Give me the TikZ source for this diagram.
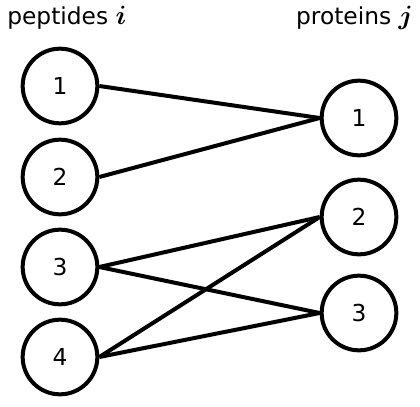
\documentclass[tikz,border=0pt]{standalone}
\usepackage{amsmath}
\usepackage{bm}
\usepackage{graphicx}
\usepackage{fontspec}
\setmainfont{DejaVu Sans}
\newcommand{\idx}[1]{\scalebox{1.15}{$\bm{#1}$}}

\begin{document}
\begin{tikzpicture}[x=0.75pt,y=-0.75pt,
        vert/.style={draw, circle, line width=3pt, minimum size=56pt, inner sep=0pt, font=\fontsize{17.5}{20}\selectfont},
        link/.style={line width=3pt},
        head/.style={font=\fontsize{17.5}{21}\selectfont, inner sep=0pt}]
        \useasboundingbox (0,0) rectangle (420,406);

        % peptides
        \node[head, anchor=base west] (hp) at (7,25) {peptides \idx{i}};
        \node[vert] (p1) at (60,86) {1};
        \node[vert] (p2) at (60,177) {2};
        \node[vert] (p3) at (60,267) {3};
        \node[vert] (p4) at (60,357) {4};

        % proteins
        \node[head, anchor=base east] (hq) at (413,25) {proteins \idx{j}};
        \node[vert] (q1) at (359,118) {1};
        \node[vert] (q2) at (359,217) {2};
        \node[vert] (q3) at (359,313) {3};

        \draw[link] (p1.east) -- (q1.west);
        \draw[link] (p2.east) -- (q1.west);
        \draw[link] (p3.east) -- (q2.west);
        \draw[link] (p3.east) -- (q3.west);
        \draw[link] (p4.east) -- (q2.west);
        \draw[link] (p4.east) -- (q3.west);
    \end{tikzpicture}
\end{document}
